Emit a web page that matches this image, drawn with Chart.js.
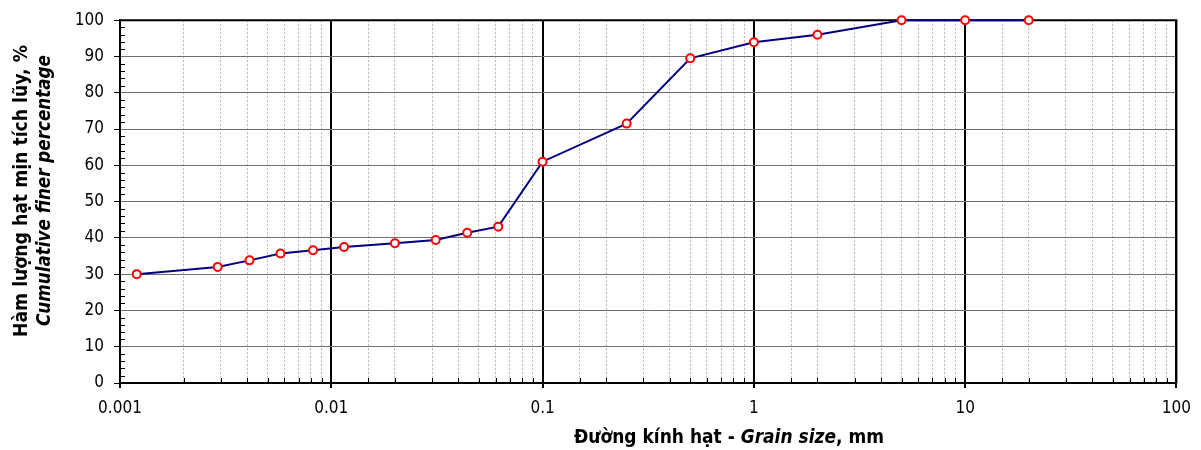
<!DOCTYPE html>
<html>
<head>
<meta charset="utf-8">
<script src="https://cdn.jsdelivr.net/npm/chart.js@4.4.1/dist/chart.umd.min.js"></script>
<style>
  html, body { margin: 0; padding: 0; background: #fff; }
  #wrap { position: relative; width: 1201px; height: 450px; }
</style>
</head>
<body>
<div id="wrap"><canvas id="grain-chart"></canvas></div>
<script>
// Grain size (mm) and cumulative finer percentage
var grainSize = [0.0012, 0.0029, 0.0041, 0.00575, 0.0082, 0.0115, 0.02, 0.0312, 0.044, 0.0617,
                 0.1, 0.25, 0.5, 1, 2, 5, 10, 20];
var percentFiner = [30.0, 32.0, 33.8, 35.7, 36.6, 37.5, 38.5, 39.4, 41.4, 43.1,
                    61.0, 71.5, 89.5, 93.9, 96.0, 100, 100, 100];

// Axis ticks
var xDecades = [0.001, 0.01, 0.1, 1, 10, 100];
var yMin = 0, yMax = 100, yStep = 10, yMinorStep = 2;

var xTitle = [
	{ text: 'Đường kính hạt - ', italic: false },
	{ text: 'Grain size', italic: true },
	{ text: ', mm', italic: false }
];
var yTitle1 = 'Hàm lượng hạt mịn tích lũy, %';
var yTitle2 = 'Cumulative finer percentage';

var FONT = "'DejaVu Sans Condensed', 'DejaVu Sans', sans-serif";

function isDecade( v ) {
	for ( var i = 0; i < xDecades.length; i++ ) {
		if ( Math.abs( v - xDecades[ i ] ) / xDecades[ i ] < 1e-6 ) {
			return true;
		}
	}
	return false;
}

// Draw a row of text runs centred on 0, squeezed to a target width
function drawRuns( ctx, runs, size, width ) {
	var total = 0;
	runs.forEach( function( r ) {
		ctx.font = ( r.italic ? 'italic ' : '' ) + 'bold ' + size + 'px ' + FONT;
		r.w = ctx.measureText( r.text ).width;
		total += r.w;
	} );
	var k = width / total;
	ctx.save();
	ctx.scale( k, 1 );
	var x = -total / 2;
	runs.forEach( function( r ) {
		ctx.font = ( r.italic ? 'italic ' : '' ) + 'bold ' + size + 'px ' + FONT;
		ctx.fillText( r.text, x, 0 );
		x += r.w;
	} );
	ctx.restore();
}

var framePlugin = {
	id: 'frame',
	beforeDatasetsDraw: function( chart ) {
		var ctx = chart.ctx;
		var a = chart.chartArea;
		var xs = chart.scales.x;
		var ys = chart.scales.y;

		ctx.save();
		ctx.strokeStyle = '#000';
		ctx.lineWidth = 1;
		ctx.beginPath();
		// minor ticks inside the plot on the x axis
		xs.ticks.forEach( function( t ) {
			if ( isDecade( t.value ) ) {
				return;
			}
			var px = Math.round( xs.getPixelForValue( t.value ) ) + 0.5;
			ctx.moveTo( px, a.bottom );
			ctx.lineTo( px, a.bottom - 5 );
		} );
		// minor ticks inside the plot on the y axis
		for ( var v = yMin; v <= yMax; v += yMinorStep ) {
			if ( v % yStep === 0 ) {
				continue;
			}
			var py = Math.round( ys.getPixelForValue( v ) ) + 0.5;
			ctx.moveTo( a.left, py );
			ctx.lineTo( a.left + 5, py );
		}
		ctx.stroke();

		// top and right edges of the plot box
		ctx.lineWidth = 2;
		ctx.beginPath();
		ctx.moveTo( a.left, a.top );
		ctx.lineTo( a.right, a.top );
		ctx.lineTo( a.right, a.bottom );
		ctx.stroke();
		ctx.restore();
	},
	afterDraw: function( chart ) {
		var ctx = chart.ctx;
		ctx.save();
		ctx.fillStyle = '#000';
		ctx.textBaseline = 'alphabetic';
		ctx.textAlign = 'left';

		ctx.save();
		ctx.translate( 729, 443 );
		drawRuns( ctx, xTitle, 19, 310 );
		ctx.restore();

		ctx.save();
		ctx.translate( 27, 191 );
		ctx.rotate( -Math.PI / 2 );
		drawRuns( ctx, [ { text: yTitle1, italic: false } ], 19, 292 );
		ctx.restore();

		ctx.save();
		ctx.translate( 50, 190.5 );
		ctx.rotate( -Math.PI / 2 );
		drawRuns( ctx, [ { text: yTitle2, italic: true } ], 19, 271 );
		ctx.restore();

		ctx.restore();
	}
};

var points = grainSize.map( function( d, i ) {
	return { x: d, y: percentFiner[ i ] };
} );

Chart.defaults.font.family = FONT;
Chart.defaults.color = '#000';

new Chart( document.getElementById( 'grain-chart' ), {
	type: 'scatter',
	data: {
		datasets: [ {
			data: points,
			showLine: true,
			clip: false,
			borderColor: '#000080',
			borderWidth: 2,
			pointRadius: 4,
			pointHoverRadius: 4,
			pointBorderWidth: 2,
			pointBorderColor: '#ff0000',
			pointBackgroundColor: '#ffffff',
			tension: 0
		} ]
	},
	options: {
		responsive: true,
		maintainAspectRatio: false,
		animation: false,
		events: [],
		layout: { padding: { top: 20, right: 22, left: 0, bottom: 0 } },
		plugins: {
			legend: { display: false },
			tooltip: { enabled: false }
		},
		scales: {
			x: {
				type: 'logarithmic',
				min: xDecades[ 0 ],
				max: xDecades[ xDecades.length - 1 ],
				afterFit: function( s ) { s.height = 67; },
				grid: {
					color: function( c ) { return c.tick && isDecade( c.tick.value ) ? '#000' : '#b4b4b4'; },
					lineWidth: function( c ) { return c.tick && isDecade( c.tick.value ) ? 2 : 1; },
					tickColor: function( c ) { return c.tick && isDecade( c.tick.value ) ? '#000' : 'rgba(0,0,0,0)'; },
					tickWidth: 2,
					tickLength: 5
				},
				border: {
					color: '#000',
					width: 2,
					dash: function( c ) { return c.tick && !isDecade( c.tick.value ) ? [ 2, 2 ] : []; }
				},
				ticks: {
					autoSkip: false,
					maxRotation: 0,
					padding: 10,
					font: { size: 17 },
					callback: function( v ) { return isDecade( v ) ? String( +v.toPrecision( 6 ) ) : ''; }
				}
			},
			y: {
				min: yMin,
				max: yMax,
				afterFit: function( s ) { s.width = 120; },
				grid: {
					color: '#6e6e6e',
					lineWidth: 1,
					tickColor: '#000',
					tickWidth: 1,
					tickLength: 6
				},
				border: { color: '#000', width: 2 },
				ticks: {
					stepSize: yStep,
					padding: 10,
					font: { size: 17 }
				}
			}
		}
	},
	plugins: [ framePlugin ]
} );
</script>
</body>
</html>
